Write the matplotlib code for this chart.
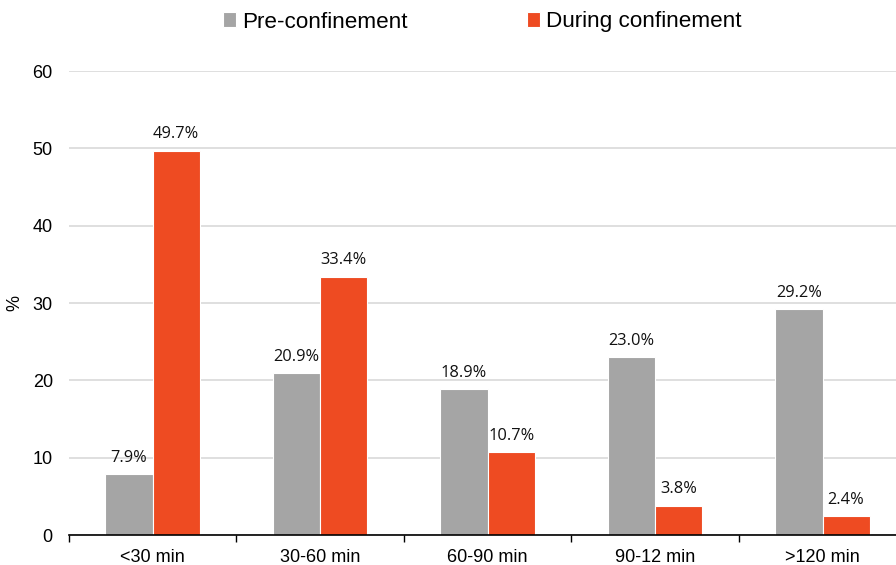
import matplotlib.pyplot as plt
import numpy as np

categories = ["<30 min", "30-60 min", "60-90 min", "90-12 min", ">120 min"]
pre = [7.9, 20.9, 18.9, 23.0, 29.2]
during = [49.7, 33.4, 10.7, 3.8, 2.4]
series_names = ["Pre-confinement", "During confinement"]

gray = "#A5A5A5"
orange = "#EE4B22"

fig = plt.figure(figsize=(8.96, 5.65), dpi=100)
# plot area runs slightly past the right edge of the canvas
ax = fig.add_axes([68.75 / 896, 30 / 565, 837.5 / 896, 464 / 565])

x = np.arange(len(categories))
w = 0.282
b1 = ax.bar(x - w / 2, pre, w, color=gray, edgecolor="white", linewidth=0.8,
            label=series_names[0], zorder=3)
b2 = ax.bar(x + w / 2, during, w, color=orange, edgecolor="white", linewidth=0.8,
            label=series_names[1], zorder=3)

for bars in (b1, b2):
    for rect in bars:
        h = rect.get_height()
        ax.annotate(f"{h:.1f}%", (rect.get_x() + rect.get_width() / 2, h),
                    xytext=(0, 6), textcoords="offset points",
                    ha="center", va="bottom", fontsize=11.8,
                    family="Open Sans", color="#111111")

ax.set_xlim(-0.5, len(categories) - 0.5)
ax.set_ylim(0, 60)
ax.set_yticks(range(0, 61, 10))
ax.set_xticks(x)
ax.set_xticklabels(categories)
ax.set_xticks(np.arange(-0.5, len(categories), 1.0), minor=True)
ax.tick_params(axis="x", which="major", length=0, pad=10, labelsize=13)
ax.tick_params(axis="x", which="minor", length=5, width=1, direction="out")
ax.tick_params(axis="y", length=0, pad=11.5, labelsize=13)
for lab in ax.get_xticklabels() + ax.get_yticklabels():
    lab.set_family("Liberation Sans")

ax.grid(axis="y", color="#D9D9D9", linewidth=1.2, zorder=0)
for side in ("left", "right", "top"):
    ax.spines[side].set_visible(False)
ax.spines["bottom"].set_linewidth(1.2)
ax.spines["bottom"].set_zorder(4)

ax.set_ylabel("%", fontsize=13, family="Liberation Sans")
ax.yaxis.set_label_coords(-0.054, 0.5)

fig.legend(loc="center", bbox_to_anchor=(482 / 896, 1 - 22 / 565), ncol=2,
           frameon=False, handlelength=0.6, handleheight=0.6, handletextpad=0.25,
           columnspacing=5.3, prop={"family": "Liberation Sans", "size": 16.2})

fig.savefig("out.png", dpi=100)
